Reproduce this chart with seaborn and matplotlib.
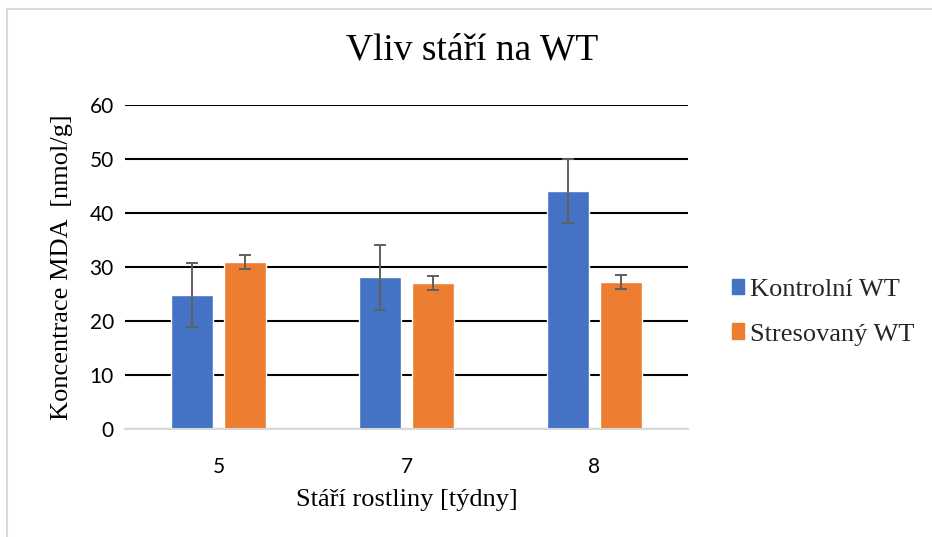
import matplotlib
matplotlib.use('Agg')
import matplotlib.pyplot as plt
from matplotlib.lines import Line2D
import seaborn as sns
import pandas as pd

# data
ages = ["5", "7", "8"]
series = ["Kontrolní WT", "Stresovaný WT"]
control_mean = [24.8, 28.1, 44.1]
control_err = [6.0, 6.0, 5.9]
stress_mean = [30.9, 27.0, 27.2]
stress_err = [1.3, 1.3, 1.3]

colors = ["#4472C4", "#ED7D31"]

df = pd.DataFrame({
    "age": ages * 2,
    "series": [series[0]] * 3 + [series[1]] * 3,
    "value": control_mean + stress_mean,
})
errs = {series[0]: control_err, series[1]: stress_err}

sns.set_theme(style="white")
plt.rcParams['font.family'] = ['Liberation Serif', 'DejaVu Serif']

fig = plt.figure(figsize=(9.32, 5.37), dpi=100)
ax = fig.add_axes([125 / 932, 1 - 429 / 537, (688 - 125) / 932, (429 - 105) / 537])

sns.barplot(data=df, x="age", y="value", hue="series", order=ages,
            hue_order=series, palette=colors, width=0.565, gap=0.21,
            errorbar=None, saturation=1, ax=ax)

# error bars on top of the bars
for cont, name in zip(ax.containers, series):
    xs = [b.get_x() + b.get_width() / 2 for b in cont]
    ys = [b.get_height() for b in cont]
    ax.errorbar(xs, ys, yerr=errs[name], fmt="none", ecolor="#5f5f5f",
                elinewidth=1.4, capsize=4.5, capthick=1.4, zorder=5)

ax.set_ylim(0, 60)
ax.set_yticks(range(0, 61, 10))
ax.set_xlim(-0.5, 2.5)
ax.yaxis.grid(True, color="black", linewidth=1.5)
ax.set_axisbelow(True)
for s in ["top", "right", "left"]:
    ax.spines[s].set_visible(False)
ax.spines["bottom"].set_color("#d9d9d9")
ax.spines["bottom"].set_linewidth(1.5)
ax.tick_params(axis="both", length=0, labelsize=15, colors="black")
ax.tick_params(axis="x", pad=20)
ax.tick_params(axis="y", pad=8)
for lab in ax.get_xticklabels() + ax.get_yticklabels():
    lab.set_fontfamily("Lato")

ax.set_xlabel("Stáří rostliny [týdny]", fontsize=19, labelpad=9, color="black")
ax.set_ylabel("Koncentrace MDA  [nmol/g]", fontsize=19, labelpad=12, color="black")

fig.text(472 / 932, 1 - 50 / 537, "Vliv stáří na WT", fontsize=27,
         ha="center", va="center", color="black")

ax.get_legend().remove()
handles = [plt.Rectangle((0, 0), 1, 1, color=c) for c in colors]
fig.legend(handles, series, loc="center left", bbox_to_anchor=(732 / 932, 1 - 312 / 537),
           frameon=False, fontsize=19, handlelength=0.45, handleheight=0.55,
           handletextpad=0.25, labelspacing=0.85, borderaxespad=0, borderpad=0)

# light frame around the chart
fig.add_artist(Line2D([7 / 932, 7 / 932], [0, 1 - 9 / 537], color="#d9d9d9", lw=1.5))
fig.add_artist(Line2D([7 / 932, 1], [1 - 9 / 537, 1 - 9 / 537], color="#d9d9d9", lw=1.5))

fig.savefig("out.png", dpi=100)
